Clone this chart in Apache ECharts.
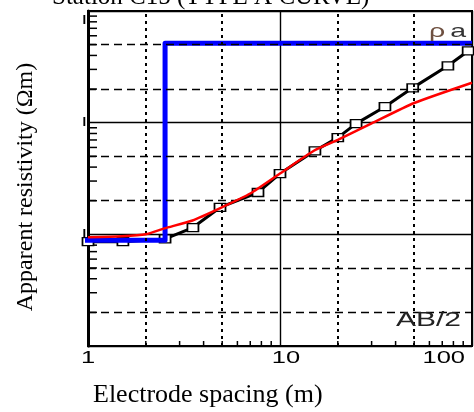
<!DOCTYPE html>
<html>
<head>
<meta charset="utf-8">
<script src="https://cdn.jsdelivr.net/npm/echarts@6/dist/echarts.min.js"></script>
<style>
  html, body { margin: 0; padding: 0; background: #fff; }
  #chart { width: 474px; height: 412px; }
</style>
</head>
<body>
<div id="chart"></div>
<script>
// field data (squares)
const spacingField = [1, 1.52, 2.52, 3.52, 4.87, 7.68, 10, 15.2, 20, 24.9, 35.2, 49.1, 74.9, 95.5];
const rhoField = [8.6, 8.6, 9.1, 11.5, 17.4, 23.7, 35, 56, 73.5, 98, 139, 205, 323, 439];
// calculated curve
const spacingCalc = [1, 1.5, 2, 2.5, 3.5, 5, 7, 10, 15, 20, 30, 50, 100];
const rhoCalc = [9.4, 9.6, 10, 11.3, 13.3, 17.5, 23.2, 35, 56, 70, 98.5, 150, 228];
// layer model
const depthModel = [0.94, 2.52, 2.52, 100];
const rhoModel = [8.84, 8.84, 515, 515];

const xTickValues = [1, 10, 100];
const xTickLabels = ["1", "10", "100"];
const xMinor = [2, 3, 4, 5, 6, 7, 8, 9, 20, 30, 40, 50, 60, 70, 80, 90];
const yMinor = [2, 3, 4, 5, 6, 7, 8, 9, 20, 30, 40, 50, 60, 70, 80, 90, 200, 300, 400, 500, 600, 700, 800, 900];
const xDotted = [2, 5, 20, 50];
const yDashed = [2, 5, 20, 50, 200, 500];

const sans = "Liberation Sans";
const serif = "Liberation Serif";

const chart = echarts.init(document.getElementById("chart"), null, { renderer: "canvas" });

function zip(xs, ys) {
  return xs.map((x, i) => [x, ys[i]]);
}

const option = {
  animation: false,
  title: {
    text: "Station C15 (TYPE A CURVE)",
    left: 47,
    top: -20,
    textStyle: { fontFamily: serif, fontSize: 25, fontWeight: "normal", color: "#000" }
  },
  grid: {
    left: 88,
    right: 2,
    top: 11,
    bottom: 66,
    show: true,
    borderColor: "#000",
    borderWidth: 2
  },
  xAxis: {
    type: "log",
    logBase: 10,
    min: 1,
    max: 100,
    axisLine: { show: true, lineStyle: { color: "#000", width: 2 } },
    axisTick: { show: false },
    axisLabel: { show: false },
    splitLine: { show: true, lineStyle: { color: "#000", width: 1.4 } }
  },
  yAxis: {
    type: "log",
    logBase: 10,
    min: 1,
    max: 1000,
    axisLine: { show: true, lineStyle: { color: "#000", width: 3 } },
    axisTick: { show: false },
    axisLabel: {
      margin: 2,
      fontFamily: sans,
      fontWeight: "bold",
      fontSize: 13,
      color: "#000",
      formatter: (v) => {
        const r = Math.round(v);
        if (r === 1000) return "{top|I}";
        if (r === 10 || r === 100) return "I";
        return "";
      },
      rich: { top: { padding: [18, 0, 0, 0], fontFamily: sans, fontWeight: "bold", fontSize: 13 } }
    },
    splitLine: { show: true, lineStyle: { color: "#000", width: 1.4 } }
  },
  graphic: [
    {
      type: "text",
      left: 93,
      top: 382,
      style: { text: "Electrode spacing (m)", fontFamily: serif, fontSize: 26, fill: "#000" }
    },
    {
      type: "text",
      x: 26,
      y: 187,
      rotation: Math.PI / 2,
      style: {
        text: "Apparent resistivity (\u03a9m)",
        fontFamily: serif,
        fontSize: 24,
        fill: "#000",
        align: "center",
        verticalAlign: "middle"
      }
    },
    {
      type: "text",
      x: 429,
      y: 22,
      scaleX: 1.5,
      z: 10,
      style: {
        text: "{r|\u03c1} {a|a}",
        rich: {
          r: { fontFamily: sans, fontSize: 19, fill: "#6e5040" },
          a: { fontFamily: sans, fontSize: 19, fill: "#333" }
        }
      }
    },
    {
      type: "text",
      x: 396,
      y: 310,
      scaleX: 1.5,
      z: 10,
      style: { text: "AB/2", fontFamily: sans, fontSize: 20, fill: "#222" }
    }
  ],
  series: [
    {
      // minor grid lines
      type: "line",
      data: [],
      silent: true,
      z: 1,
      markLine: {
        silent: true,
        symbol: "none",
        label: { show: false },
        animation: false,
        data: [
          ...xDotted.map((v) => ({ xAxis: v, lineStyle: { color: "#000", width: 2, type: [3, 4] } })),
          ...yDashed.map((v) => ({ yAxis: v, lineStyle: { color: "#000", width: 1.4, type: [8, 5] } }))
        ]
      }
    },
    {
      // minor ticks on the x axis
      type: "custom",
      silent: true,
      z: 2,
      data: xMinor.map((v) => [v, 1]),
      renderItem: (params, api) => {
        const p = api.coord([api.value(0), api.value(1)]);
        return {
          type: "line",
          shape: { x1: p[0], y1: p[1], x2: p[0], y2: p[1] - 5 },
          style: { stroke: "#000", lineWidth: 1.5 }
        };
      }
    },
    {
      // minor ticks on the y axis
      type: "custom",
      silent: true,
      z: 2,
      data: yMinor.map((v) => [1, v]),
      renderItem: (params, api) => {
        const p = api.coord([api.value(0), api.value(1)]);
        return {
          type: "line",
          shape: { x1: p[0], y1: p[1], x2: p[0] + 9, y2: p[1] },
          style: { stroke: "#000", lineWidth: 1.5 }
        };
      }
    },
    {
      // x tick labels, stretched like the original
      type: "custom",
      silent: true,
      clip: false,
      z: 2,
      data: xTickValues.map((v) => [v, 1]),
      renderItem: (params, api) => {
        const p = api.coord([api.value(0), api.value(1)]);
        const i = params.dataIndex;
        const last = i === xTickValues.length - 1;
        return {
          type: "text",
          x: last ? p[0] - 7 : p[0] + (i ? 6 : 0),
          y: p[1] + 4,
          scaleX: 1.5,
          style: {
            text: xTickLabels[i],
            fontFamily: sans,
            fontSize: 17,
            fill: "#000",
            align: last ? "right" : "center",
            verticalAlign: "top"
          }
        };
      }
    },
    {
      type: "line",
      data: zip(spacingField, rhoField),
      z: 3,
      symbol: "rect",
      symbolSize: [11, 8],
      showAllSymbol: true,
      itemStyle: { color: "#fff", borderColor: "#000", borderWidth: 1.5 },
      lineStyle: { color: "#000", width: 3 }
    },
    {
      type: "line",
      data: zip(depthModel, rhoModel),
      z: 4,
      clip: false,
      symbol: "none",
      lineStyle: { color: "#0000ff", width: 5, join: "round" }
    },
    {
      type: "line",
      data: zip(spacingCalc, rhoCalc),
      z: 5,
      symbol: "none",
      smooth: 0.2,
      lineStyle: { color: "#ff0000", width: 2.5 }
    }
  ]
};

chart.setOption(option);
</script>
</body>
</html>
